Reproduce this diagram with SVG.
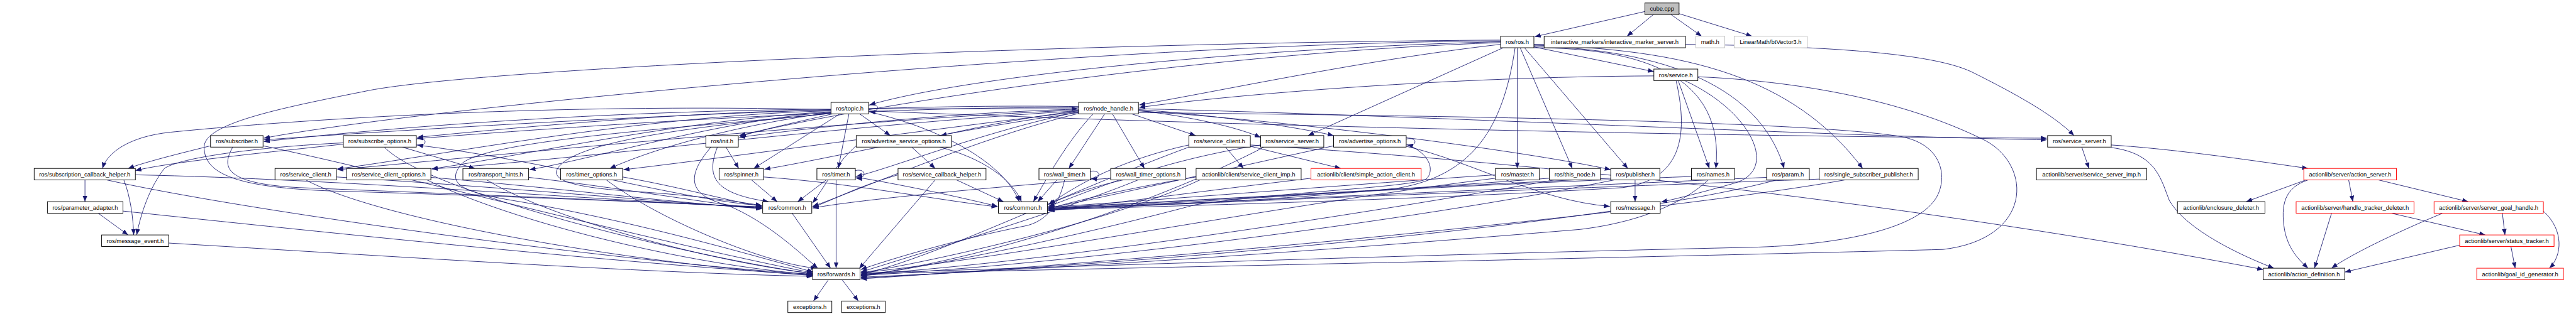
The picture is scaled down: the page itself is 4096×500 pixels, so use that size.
<svg xmlns="http://www.w3.org/2000/svg" width="4096" height="500" viewBox="0 0 4096 500">
<style>
.n rect{fill:#fff;stroke:#000;stroke-width:1.4}
.n text{font-family:"Liberation Sans",Arial,sans-serif;font-size:14px;text-anchor:middle;fill:#000}
.red rect{stroke:#ff0000}
.gray rect{stroke:#bfbfbf}
#edges path{fill:none;stroke:#191970;stroke-width:1.3;marker-end:url(#a)}
</style>
<defs>
<marker id="a" markerUnits="userSpaceOnUse" markerWidth="15" markerHeight="11" refX="14" refY="5.5" orient="auto"><path d="M0,0 L14,5.5 L0,11 z" fill="#191970"/></marker>
</defs>
<rect width="4096" height="500" fill="#fff"/>
<g transform="scale(0.679)">
<g id="edges">
<path d="M3852,27 L3594,86"/>
<path d="M3872,34 L3810,85"/>
<path d="M3913,34 L3985,85"/>
<path d="M3932,32 L4103,85"/>
<path d="M3514,104 C3200,140 2900,205 2668,246"/>
<path d="M3514,98 C3000,110 2300,170 2036,246"/>
<path d="M3514,96 C2600,100 1000,250 618,324"/>
<path d="M3514,100 C2900,120 2100,230 1731,318"/>
<path d="M3520,112 L3063,318"/>
<path d="M3514,94 C2500,100 1100,160 850,215 C650,255 478,290 478,345 C478,410 560,440 780,448 C1200,460 1600,478 1784,485"/>
<path d="M3548,112 C3520,300 3450,410 3275,441 C3000,470 2700,482 2455,488"/>
<path d="M3553,112 L3553,395"/>
<path d="M3560,112 L3682,395"/>
<path d="M3570,112 L3812,395"/>
<path d="M3592,110 L3873,168"/>
<path d="M3592,112 C3850,112 4040,180 4018,395"/>
<path d="M3592,108 C3950,118 4130,230 4178,395"/>
<path d="M3592,106 C3950,115 4200,180 4362,395"/>
<path d="M3592,104 C4100,100 4500,110 4620,170 C4720,220 4810,270 4857,318"/>
<path d="M3873,178 C3400,180 2900,220 2668,252"/>
<path d="M3930,189 L4003,395"/>
<path d="M3945,189 C4100,260 4170,400 4060,430 C3990,450 3930,465 3890,474"/>
<path d="M3925,189 C3950,300 3950,420 3800,440 C3300,470 2700,484 2455,492"/>
<path d="M3976,180 C4200,190 4450,230 4650,330 C4760,390 4760,560 4550,585 C4000,600 2600,630 2016,642"/>
<path d="M2034,255 L2524,255"/>
<path d="M1988,267 L1963,395"/>
<path d="M1967,267 L1765,395"/>
<path d="M2013,267 L2085,318"/>
<path d="M2034,262 C2200,300 2350,380 2387,473"/>
<path d="M2034,247 C2062,240 2062,264 2036,262"/>
<path d="M1946,256 C1400,260 900,300 618,332"/>
<path d="M1946,258 C1600,262 1200,300 977,322"/>
<path d="M1946,260 C1500,270 1000,370 790,396"/>
<path d="M1946,262 C1600,280 1200,370 1011,396"/>
<path d="M1946,264 C1750,290 1550,340 1428,395"/>
<path d="M1946,263 C1700,280 1400,370 1240,398"/>
<path d="M1950,267 C1850,290 1780,305 1733,320"/>
<path d="M1946,266 C1700,290 1400,320 1320,380 C1270,420 1330,440 1500,450 C1650,460 1740,475 1784,482"/>
<path d="M1946,266 C1600,300 1100,330 1075,392 C1050,430 1080,450 1200,470 C1500,520 1800,610 1905,638"/>
<path d="M1946,257 C1200,240 600,290 400,310 C300,320 250,360 240,395"/>
<path d="M2034,260 C3000,300 4200,322 4793,324"/>
<path d="M2587,267 L2503,395"/>
<path d="M2605,267 L2680,395"/>
<path d="M2650,267 L2800,318"/>
<path d="M2666,259 C2800,275 2900,300 2952,322"/>
<path d="M2666,257 C2850,270 3050,300 3123,318"/>
<path d="M2666,255 C3300,270 4300,320 4793,328"/>
<path d="M2666,260 C3100,290 3600,360 3772,398"/>
<path d="M2526,250 C2000,240 1000,300 618,328"/>
<path d="M2526,252 C2000,250 1300,300 977,325"/>
<path d="M2526,256 C2200,265 1900,300 1731,322"/>
<path d="M2526,258 C2000,280 1100,370 790,398"/>
<path d="M2526,260 C2000,290 1300,380 1011,396"/>
<path d="M2526,262 C2200,300 1700,370 1460,398"/>
<path d="M2526,264 C2200,310 1950,370 1790,397"/>
<path d="M2526,262 C2300,310 2100,390 2005,414"/>
<path d="M2526,260 C2400,275 2280,300 2203,318"/>
<path d="M2526,266 C2300,320 2000,450 1903,484"/>
<path d="M2560,267 C2500,330 2450,420 2420,473"/>
<path d="M2666,264 C3200,270 4200,280 4450,320 C4560,340 4560,430 4530,470 C4480,540 4300,575 4100,580 C3200,600 2400,630 2016,640"/>
<path d="M493,342 C420,360 340,380 300,395"/>
<path d="M545,345 C520,390 520,430 700,440 C1200,460 1600,476 1784,487"/>
<path d="M616,342 C900,400 1500,560 1903,640"/>
<path d="M975,326 C1002,320 1002,344 977,340"/>
<path d="M942,345 L1112,395"/>
<path d="M804,335 C600,345 420,370 385,395 C350,440 330,500 320,551"/>
<path d="M804,338 C600,360 400,380 317,400"/>
<path d="M975,340 C1300,380 1600,470 1784,482"/>
<path d="M900,345 C1000,450 1600,600 1903,642"/>
<path d="M1700,345 L1730,395"/>
<path d="M1680,345 C1650,420 1680,455 1800,473"/>
<path d="M1665,345 C1600,420 1620,460 1700,480 C1800,520 1880,600 1915,629"/>
<path d="M2135,345 L2190,395"/>
<path d="M2200,345 C2300,370 2370,420 2392,473"/>
<path d="M2005,342 C1960,380 1930,440 1903,476"/>
<path d="M2870,345 L2912,395"/>
<path d="M2928,343 L3140,395"/>
<path d="M2928,340 C3600,380 4500,480 5300,632"/>
<path d="M2784,340 C2600,380 2500,450 2455,480"/>
<path d="M2784,345 C2500,450 2200,600 2016,644"/>
<path d="M2952,340 C2700,380 2550,450 2455,484"/>
<path d="M2960,345 C2700,480 2300,610 2016,646"/>
<path d="M3293,326 C3320,320 3320,344 3295,340"/>
<path d="M3123,342 C2900,390 2600,460 2455,488"/>
<path d="M3293,338 C3350,360 3360,400 3340,420 C3300,440 3000,450 2800,480 C2500,560 2200,620 2016,648"/>
<path d="M3293,343 C3450,380 3600,470 3770,484"/>
<path d="M4875,345 L4892,395"/>
<path d="M4944,340 C5100,350 5300,380 5405,395"/>
<path d="M4944,346 C5050,360 5060,420 5080,470 C5120,540 5250,600 5325,629"/>
<path d="M199,422 L199,473"/>
<path d="M317,410 C800,420 1400,470 1784,486"/>
<path d="M250,422 C600,500 1500,620 1903,643"/>
<path d="M290,422 C305,460 312,510 313,551"/>
<path d="M230,500 L300,551"/>
<path d="M288,495 C900,560 1500,620 1903,645"/>
<path d="M395,570 C900,600 1500,640 1903,648"/>
<path d="M788,415 C1200,440 1600,478 1784,488"/>
<path d="M716,422 C900,520 1500,620 1903,646"/>
<path d="M1009,416 C1300,440 1600,478 1784,489"/>
<path d="M1000,422 C1200,520 1600,620 1903,644"/>
<path d="M1238,416 C1450,440 1650,476 1784,490"/>
<path d="M1140,422 C1300,520 1700,620 1903,641"/>
<path d="M1458,415 C1600,440 1700,470 1784,484"/>
<path d="M1420,422 C1550,520 1800,620 1912,629"/>
<path d="M1760,422 L1820,473"/>
<path d="M1788,415 C2000,430 2200,470 2336,485"/>
<path d="M1958,422 L1958,629"/>
<path d="M1935,422 L1868,473"/>
<path d="M2003,400 C2030,394 2030,420 2005,418"/>
<path d="M2003,415 C2150,440 2280,470 2336,484"/>
<path d="M2240,422 L2350,473"/>
<path d="M2190,422 L2012,630"/>
<path d="M2103,410 C2000,440 1950,470 1903,486"/>
<path d="M2553,402 C2580,396 2580,422 2555,418"/>
<path d="M2475,422 L2430,473"/>
<path d="M2493,422 C2480,480 2450,520 2400,530 C2200,570 2050,620 2016,632"/>
<path d="M2630,422 C2550,440 2500,460 2457,478"/>
<path d="M2665,422 C2500,490 2200,580 2016,638"/>
<path d="M2601,418 C2300,440 2000,470 1903,488"/>
<path d="M2801,415 C2650,440 2520,470 2455,490"/>
<path d="M2810,422 C2600,520 2200,610 2016,640"/>
<path d="M3070,418 C2800,450 2600,478 2455,494"/>
<path d="M3502,410 C3200,430 2700,470 2455,486"/>
<path d="M3502,418 C3000,480 2400,600 2016,640"/>
<path d="M3628,418 C3200,450 2700,480 2455,490"/>
<path d="M3640,422 C3200,500 2500,610 2016,644"/>
<path d="M3829,422 L3829,473"/>
<path d="M3772,418 C3300,440 2800,470 2455,487"/>
<path d="M3780,422 C3300,520 2500,620 2016,646"/>
<path d="M3961,414 C3500,430 2800,470 2455,489"/>
<path d="M4000,422 C3950,470 3850,520 3700,538 C3200,580 2500,630 2016,650"/>
<path d="M4137,416 C3600,440 2800,475 2455,491"/>
<path d="M4160,422 C3800,520 2800,610 2016,652"/>
<path d="M4260,420 C3700,440 2800,475 2455,493"/>
<path d="M4320,422 C4000,480 3000,590 2016,654"/>
<path d="M1855,500 L1945,629"/>
<path d="M1940,656 L1905,706"/>
<path d="M1972,656 L2010,706"/>
<path d="M5400,422 L5260,473"/>
<path d="M5405,422 C5350,440 5340,480 5350,540 C5360,590 5390,615 5405,629"/>
<path d="M5500,422 L5510,473"/>
<path d="M5570,422 L5780,473"/>
<path d="M5460,500 L5420,629"/>
<path d="M5600,500 L5820,551"/>
<path d="M5860,500 L5866,551"/>
<path d="M5760,575 L5491,638"/>
<path d="M5880,578 L5890,629"/>
<path d="M5720,500 C5600,550 5500,600 5460,629"/>
<path d="M5956,495 C6005,540 6000,600 5970,629"/>
</g>
<g id="n_cube" class="n"><rect x="3852" y="7" width="80" height="27" style="fill:#bfbfbf"/><text x="3892" y="25.5">cube.cpp</text></g>
<g id="n_ros" class="n"><rect x="3514" y="85" width="78" height="27"/><text x="3553" y="103.5">ros/ros.h</text></g>
<g id="n_ims" class="n"><rect x="3616" y="85" width="331" height="27"/><text x="3781.5" y="103.5">interactive_markers/interactive_marker_server.h</text></g>
<g id="n_math" class="n gray"><rect x="3971" y="85" width="68" height="27"/><text x="4005" y="103.5">math.h</text></g>
<g id="n_btv" class="n gray"><rect x="4061" y="85" width="171" height="27"/><text x="4146.5" y="103.5">LinearMath/btVector3.h</text></g>
<g id="n_service" class="n"><rect x="3873" y="162" width="103" height="27"/><text x="3924.5" y="180.5">ros/service.h</text></g>
<g id="n_topic" class="n"><rect x="1946" y="240" width="88" height="27"/><text x="1990" y="258.5">ros/topic.h</text></g>
<g id="n_nh" class="n"><rect x="2526" y="240" width="140" height="27"/><text x="2596" y="258.5">ros/node_handle.h</text></g>
<g id="n_subscriber" class="n"><rect x="493" y="318" width="123" height="27"/><text x="554.5" y="336.5">ros/subscriber.h</text></g>
<g id="n_subopts" class="n"><rect x="804" y="318" width="171" height="27"/><text x="889.5" y="336.5">ros/subscribe_options.h</text></g>
<g id="n_init" class="n"><rect x="1653" y="318" width="76" height="27"/><text x="1691" y="336.5">ros/init.h</text></g>
<g id="n_aso" class="n"><rect x="2005" y="318" width="223" height="27"/><text x="2116.5" y="336.5">ros/advertise_service_options.h</text></g>
<g id="n_sc2" class="n"><rect x="2784" y="318" width="144" height="27"/><text x="2856" y="336.5">ros/service_client.h</text></g>
<g id="n_ss1" class="n"><rect x="2952" y="318" width="148" height="27"/><text x="3026" y="336.5">ros/service_server.h</text></g>
<g id="n_ao" class="n"><rect x="3123" y="318" width="170" height="27"/><text x="3208" y="336.5">ros/advertise_options.h</text></g>
<g id="n_ss2" class="n"><rect x="4795" y="318" width="149" height="27"/><text x="4869.5" y="336.5">ros/service_server.h</text></g>
<g id="n_sch" class="n"><rect x="80" y="395" width="237" height="27"/><text x="198.5" y="413.5">ros/subscription_callback_helper.h</text></g>
<g id="n_sc1" class="n"><rect x="644" y="395" width="144" height="27"/><text x="716" y="413.5">ros/service_client.h</text></g>
<g id="n_sco" class="n"><rect x="812" y="395" width="197" height="27"/><text x="910.5" y="413.5">ros/service_client_options.h</text></g>
<g id="n_th" class="n"><rect x="1084" y="395" width="154" height="27"/><text x="1161" y="413.5">ros/transport_hints.h</text></g>
<g id="n_to" class="n"><rect x="1313" y="395" width="145" height="27"/><text x="1385.5" y="413.5">ros/timer_options.h</text></g>
<g id="n_spin" class="n"><rect x="1684" y="395" width="104" height="27"/><text x="1736" y="413.5">ros/spinner.h</text></g>
<g id="n_timer" class="n"><rect x="1913" y="395" width="90" height="27"/><text x="1958" y="413.5">ros/timer.h</text></g>
<g id="n_scbh" class="n"><rect x="2103" y="395" width="206" height="27"/><text x="2206" y="413.5">ros/service_callback_helper.h</text></g>
<g id="n_wt" class="n"><rect x="2433" y="395" width="120" height="27"/><text x="2493" y="413.5">ros/wall_timer.h</text></g>
<g id="n_wto" class="n"><rect x="2601" y="395" width="176" height="27"/><text x="2689" y="413.5">ros/wall_timer_options.h</text></g>
<g id="n_scimp" class="n"><rect x="2801" y="395" width="246" height="27"/><text x="2924" y="413.5">actionlib/client/service_client_imp.h</text></g>
<g id="n_sac" class="n red"><rect x="3070" y="395" width="258" height="27"/><text x="3199" y="413.5">actionlib/client/simple_action_client.h</text></g>
<g id="n_master" class="n"><rect x="3502" y="395" width="103" height="27"/><text x="3553.5" y="413.5">ros/master.h</text></g>
<g id="n_thisnode" class="n"><rect x="3628" y="395" width="120" height="27"/><text x="3688" y="413.5">ros/this_node.h</text></g>
<g id="n_pub" class="n"><rect x="3772" y="395" width="115" height="27"/><text x="3829.5" y="413.5">ros/publisher.h</text></g>
<g id="n_names" class="n"><rect x="3961" y="395" width="101" height="27"/><text x="4011.5" y="413.5">ros/names.h</text></g>
<g id="n_param" class="n"><rect x="4137" y="395" width="100" height="27"/><text x="4187" y="413.5">ros/param.h</text></g>
<g id="n_ssp" class="n"><rect x="4260" y="395" width="232" height="27"/><text x="4376" y="413.5">ros/single_subscriber_publisher.h</text></g>
<g id="n_ssimp" class="n"><rect x="4769" y="395" width="258" height="27"/><text x="4898" y="413.5">actionlib/server/service_server_imp.h</text></g>
<g id="n_as" class="n red"><rect x="5395" y="395" width="217" height="27"/><text x="5503.5" y="413.5">actionlib/server/action_server.h</text></g>
<g id="n_pa" class="n"><rect x="111" y="473" width="177" height="27"/><text x="199.5" y="491.5">ros/parameter_adapter.h</text></g>
<g id="n_common1" class="n"><rect x="1786" y="473" width="115" height="27"/><text x="1843.5" y="491.5">ros/common.h</text></g>
<g id="n_common2" class="n"><rect x="2338" y="473" width="115" height="27"/><text x="2395.5" y="491.5">ros/common.h</text></g>
<g id="n_msg" class="n"><rect x="3772" y="473" width="116" height="27"/><text x="3830" y="491.5">ros/message.h</text></g>
<g id="n_encl" class="n"><rect x="5099" y="473" width="205" height="27"/><text x="5201.5" y="491.5">actionlib/enclosure_deleter.h</text></g>
<g id="n_htd" class="n red"><rect x="5377" y="473" width="276" height="27"/><text x="5515" y="491.5">actionlib/server/handle_tracker_deleter.h</text></g>
<g id="n_sgh" class="n red"><rect x="5700" y="473" width="256" height="27"/><text x="5828" y="491.5">actionlib/server/server_goal_handle.h</text></g>
<g id="n_me" class="n"><rect x="238" y="551" width="157" height="27"/><text x="316.5" y="569.5">ros/message_event.h</text></g>
<g id="n_st" class="n red"><rect x="5760" y="551" width="221" height="27"/><text x="5870.5" y="569.5">actionlib/server/status_tracker.h</text></g>
<g id="n_fwd" class="n"><rect x="1903" y="629" width="111" height="27"/><text x="1958.5" y="647.5">ros/forwards.h</text></g>
<g id="n_ad" class="n"><rect x="5300" y="629" width="191" height="27"/><text x="5395.5" y="647.5">actionlib/action_definition.h</text></g>
<g id="n_gig" class="n red"><rect x="5800" y="629" width="203" height="27"/><text x="5901.5" y="647.5">actionlib/goal_id_generator.h</text></g>
<g id="n_exc1" class="n"><rect x="1845" y="706" width="103" height="27"/><text x="1896.5" y="724.5">exceptions.h</text></g>
<g id="n_exc2" class="n"><rect x="1971" y="706" width="102" height="27"/><text x="2022" y="724.5">exceptions.h</text></g>
</g>
</svg>
